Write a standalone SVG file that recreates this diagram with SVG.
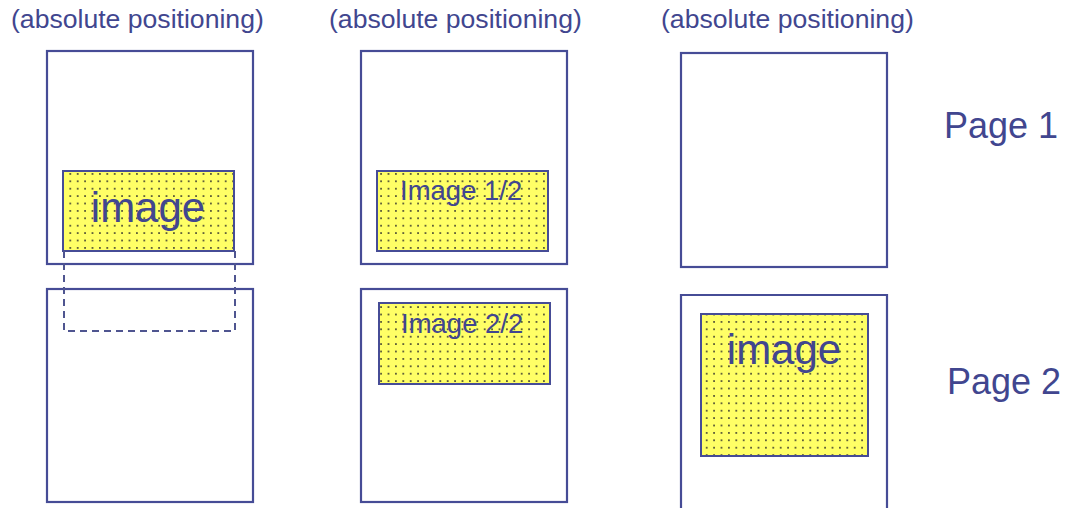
<svg xmlns="http://www.w3.org/2000/svg" width="1073" height="508" viewBox="0 0 1073 508">
<defs>
<pattern id="dots" x="0" y="0" width="7.4" height="7.4" patternUnits="userSpaceOnUse">
<rect width="7.4" height="7.4" fill="#ffff66"/>
<circle cx="3.7" cy="3.7" r="0.9" fill="#2a2a2a"/>
</pattern>
</defs>
<style>
.page{fill:#ffffff;stroke:#464c96;stroke-width:2.2}
.img{fill:url(#dots);stroke:#464c96;stroke-width:2}
.dash{fill:none;stroke:#4f5590;stroke-width:2;stroke-dasharray:7,5}
text{font-family:"Liberation Sans",Arial,sans-serif;fill:#41468f}
.cap{font-size:26.6px}
.pg{font-size:36px}
.big{font-size:42px}
.mid{font-size:27.5px}
</style>
<g id="captions">
<text class="cap" x="11" y="28">(absolute positioning)</text>
<text class="cap" x="329" y="28">(absolute positioning)</text>
<text class="cap" x="661" y="28">(absolute positioning)</text>
</g>
<g id="col1-page1"><rect class="page" x="47" y="51" width="206" height="213"/></g>
<g id="col1-page2"><rect class="page" x="47" y="289" width="206" height="213"/></g>
<g id="col1-image">
<rect class="img" x="63" y="171" width="171" height="80"/>
<text class="big" x="148" y="222" text-anchor="middle">image</text>
</g>
<g id="connectors">
<path class="dash" d="M64,251 V331 H235 V251"/>
</g>
<g id="col2-page1"><rect class="page" x="361" y="51" width="206" height="213"/></g>
<g id="col2-page2"><rect class="page" x="361" y="289" width="206" height="213"/></g>
<g id="col2-image1">
<rect class="img" x="377" y="171" width="171" height="80"/>
<text class="mid" x="400" y="200">Image 1/2</text>
</g>
<g id="col2-image2">
<rect class="img" x="379" y="303" width="171" height="81"/>
<text class="mid" x="401" y="333">Image 2/2</text>
</g>
<g id="col3-page1"><rect class="page" x="681" y="53" width="206" height="214"/></g>
<g id="col3-page2"><path class="page" d="M681,512 V295 H887 V512"/></g>
<g id="col3-image">
<rect class="img" x="701" y="314" width="167" height="142"/>
<text class="big" x="784" y="364" text-anchor="middle">image</text>
</g>
<g id="labels">
<text class="pg" x="944" y="138">Page 1</text>
<text class="pg" x="947" y="394">Page 2</text>
</g>
</svg>
